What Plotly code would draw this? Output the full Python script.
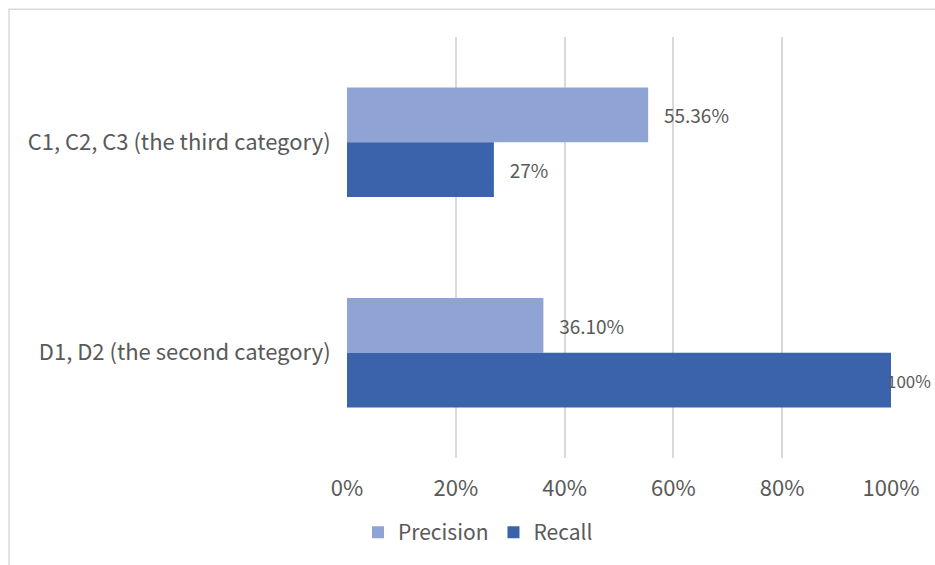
import plotly.graph_objects as go

categories = ["C1, C2, C3 (the third category)", "D1, D2 (the second category)"]
precision = [0.5536, 0.3610]
recall = [0.27, 1.00]
precision_labels = ["55.36%", "36.10%"]
recall_labels = ["27%", "100%"]
tick_vals = [0, 0.2, 0.4, 0.6, 0.8, 1.0]
tick_text = ["0%", "20%", "40%", "60%", "80%", "100%"]

FONT = "Noto Sans CJK SC"
GREY = "#595959"
PAD = "\u00a0\u00a0\u00a0"

W, H = 935, 565
L, T = 347, 37
R = W - 891
B = H - 460
pw, ph = W - L - R, H - T - B
BARGAP = 0.48
band = ph / len(categories)

fig = go.Figure()
fig.add_trace(go.Bar(
    name="Precision", y=categories, x=precision, orientation="h",
    marker=dict(color="#8FA3D5", line=dict(width=0)),
    text=precision_labels, texttemplate=PAD + "%{text}", textposition="outside",
    textfont=dict(family=FONT, size=19, color=GREY), cliponaxis=False,
))
# labels of bars reaching the axis end are drawn as annotations (so they stay in frame)
full = [v >= 0.99 for v in recall]
fig.add_trace(go.Bar(
    name="Recall", y=categories, x=recall, orientation="h",
    marker=dict(color="#3B63AB", line=dict(width=0)),
    text=["" if f else t for t, f in zip(recall_labels, full)],
    texttemplate=PAD + "%{text}", textposition="outside",
    textfont=dict(family=FONT, size=19, color=GREY), cliponaxis=False,
))

annotations = []
for cat, v, t, f in zip(categories, recall, recall_labels, full):
    if f:
        annotations.append(dict(
            x=v, y=cat, xref="x", yref="y", text=t, showarrow=False,
            xanchor="left", yanchor="middle", xshift=-5, borderpad=0,
            yshift=-(1 - BARGAP) / 4 * band,
            font=dict(family=FONT, size=17, color=GREY),
        ))

fig.update_layout(
    width=W, height=H,
    margin=dict(l=L, r=R, t=T, b=B, pad=0),
    paper_bgcolor="white", plot_bgcolor="white",
    barmode="group", bargap=BARGAP, bargroupgap=0,
    font=dict(family=FONT, size=21, color=GREY),
    showlegend=True,
    legend=dict(orientation="h", x=(478 - L) / pw, xanchor="center",
                y=-(535 - (T + ph)) / ph, yanchor="middle",
                font=dict(family=FONT, size=21, color=GREY),
                itemwidth=30, traceorder="normal"),
    xaxis=dict(range=[0, 1], tickvals=tick_vals, ticktext=tick_text,
               showgrid=True, gridcolor="#D9D9D9", gridwidth=1.5,
               zeroline=False, showline=False,
               ticks="outside", ticklen=11, tickcolor="rgba(0,0,0,0)",
               tickfont=dict(family=FONT, size=22, color=GREY), fixedrange=True),
    yaxis=dict(autorange="reversed", showgrid=False, zeroline=False, showline=False,
               ticks="outside", ticklen=11, tickcolor="rgba(0,0,0,0)",
               tickfont=dict(family=FONT, size=22, color=GREY)),
    annotations=annotations,
    shapes=[dict(type="rect", xref="paper", yref="paper",
                 x0=(9 - L) / pw, x1=1.5, y0=-0.6, y1=(T + ph - 9) / ph,
                 line=dict(color="#D9D9D9", width=1.5), fillcolor="rgba(0,0,0,0)",
                 layer="below")],
)

fig.write_html(
    "out.html",
    config={"displayModeBar": False},
    post_script="document.body.style.margin='0';document.body.style.overflow='hidden';",
)
